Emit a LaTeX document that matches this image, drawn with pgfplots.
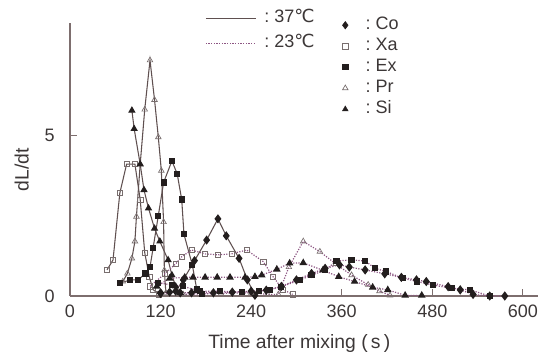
\documentclass[border=0pt]{standalone}
\usepackage{fontspec}
\setmainfont{Liberation Sans}
\newfontfamily\symfont{DejaVu Sans}
\usepackage{pgfplots}
\pgfplotsset{compat=1.18}
\definecolor{axcol}{RGB}{125,110,110}
\definecolor{solcol}{RGB}{95,80,80}
\definecolor{dotcol}{RGB}{140,85,130}
\definecolor{mkcol}{RGB}{35,30,30}
\definecolor{opcol}{RGB}{120,110,110}
\definecolor{txtcol}{RGB}{60,55,55}
\pgfplotsset{
  s37/.style={solcol, line width=0.8pt, solid},
  s23/.style={dotcol, line width=0.9pt, dash pattern=on 0.9pt off 1.1pt},
  mCo/.style={mark=diamond*, mark size=2.8pt, mark options={solid, fill=mkcol, draw=mkcol}},
  mXa/.style={mark=square, mark size=2pt, mark options={solid, draw=opcol, fill=white, line width=0.5pt}},
  mEx/.style={mark=square*, mark size=1.9pt, mark options={solid, fill=mkcol, draw=mkcol}},
  mPr/.style={mark=triangle, mark size=2.4pt, mark options={solid, draw=opcol, fill=white, line width=0.5pt}},
  mSi/.style={mark=triangle*, mark size=2.4pt, mark options={solid, fill=mkcol, draw=mkcol}},
}
\begin{document}
\begin{tikzpicture}
\begin{axis}[
  at={(0pt,0pt)}, anchor=south west,
  width=351pt, height=205pt, scale only axis,
  xmin=0, xmax=620, ymin=0, ymax=8.5,
  axis lines=left,
  axis line style={axcol, line width=0.8pt, -},
  xtick={0,120,240,360,480,600}, ytick={0,5},
  tick align=inside, major tick length=5pt,
  tick style={axcol, line width=0.8pt},
  /pgf/number format/assume math mode=true,
  ticklabel style={font=\fontsize{13.5}{15}\selectfont, text=txtcol},
  xticklabel style={yshift=-3pt},
  yticklabel style={xshift=-8pt},
  xlabel={Time after mixing (\,s\,)},
  ylabel={dL/dt},
  label style={font=\fontsize{14.5}{16}\selectfont, text=txtcol},
  xlabel style={at={(axis description cs:0.49,-0.172)}, anchor=center},
  ylabel style={at={(axis description cs:-0.103,0.461)}, anchor=center, rotate=0},
  legend style={at={(axis cs:364,8.73)}, anchor=north west, xshift=-4pt,
    draw=none, fill=none, inner sep=0pt, row sep=1.25pt, column sep=10pt,
    font=\fontsize{13.5}{15}\selectfont, text=txtcol,
    nodes={inner sep=1pt, text height=9.5pt, text depth=3pt},
    cells={anchor=west}},
  legend image code/.code={\draw[#1] plot coordinates {(4pt,0pt)}; \path (0pt,0pt) (8pt,0pt);},
  clip=false,
]
% ---- 37 C (solid) ----
\addplot[s37, mXa, forget plot] coordinates {(49,0.81)(57,1.12)(66,3.2)(75,4.1)(86,4.1)(93,3.0)(99,1.35)(105,0.6)(110,0.2)(118,0.05)};
\addplot[s37, mPr, forget plot] coordinates {(70,0.45)(76,0.7)(82,1.17)(86,1.7)(88,2.47)(93,4.1)(99,5.8)(106,7.33)(112,6.1)(117,4.94)(121,3.9)(124,2.3)(125,0.8)(127,0.1)};
\addplot[s37, mSi, forget plot] coordinates {(82,5.77)(85,5.2)(93,4.1)(98,3.3)(104,2.73)(112,2.1)(119,1.7)(130,1.12)(135,0.65)(140,0.3)(146,0.1)};
\addplot[s37, mEx, forget plot] coordinates {(66,0.4)(80,0.5)(90,0.5)(100,0.7)(106,0.9)(110,1.48)(117,2.5)(124,3.53)(135,4.2)(142,3.8)(148,3.0)(151,1.92)(162,0.97)(168,0.2)(175,0.05)};
\addplot[s37, mCo, forget plot] coordinates {(120,0.1)(132,0.12)(140,0.15)(150,0.5)(165,1.1)(181,1.74)(196,2.4)(207,1.87)(224,1.17)(235,0.5)(245,0.02)};
% ---- 23 C (dotted) ----
\addplot[s23, mXa, forget plot] coordinates {(106,0.3)(126,0.7)(140,1.0)(148,1.22)(161,1.43)(179,1.31)(196,1.28)(214,1.31)(234,1.43)(256,1.07)(269,0.6)(282,0.2)(295,0.05)};
\addplot[s23, mPr, forget plot] coordinates {(150,0.05)(200,0.08)(240,0.1)(262,0.05)(276,0.05)(290,0.9)(309,1.7)(331,1.38)(352,1.0)(373,0.65)(395,0.35)(410,0.15)(424,0.02)};
\addplot[s23, mSi, forget plot] coordinates {(115,0.3)(132,0.55)(152,0.58)(163,0.58)(179,0.58)(195,0.58)(212,0.58)(232,0.58)(245,0.6)(254,0.65)(274,0.83)(291,1.02)(309,1.03)(335,0.8)(356,0.6)(377,0.45)(401,0.27)(421,0.19)(444,0.02)(466,0.02)};
\addplot[s23, mEx, forget plot] coordinates {(117,0.4)(135,0.35)(150,0.3)(172,0.15)(199,0.15)(228,0.12)(250,0.15)(265,0.19)(280,0.29)(305,0.5)(320,0.65)(338,0.8)(353,1.09)(373,1.12)(391,1.09)(404,0.86)(419,0.76)(441,0.55)(460,0.45)(481,0.34)(506,0.24)(530,0.19)(556,0.0)};
\addplot[s23, mCo, forget plot] coordinates {(120,0.08)(146,0.1)(161,0.1)(190,0.1)(215,0.12)(240,0.15)(260,0.18)(280,0.3)(300,0.5)(320,0.7)(338,0.86)(357,0.97)(370,0.9)(391,0.81)(417,0.69)(439,0.58)(459,0.5)(472,0.45)(501,0.29)(517,0.19)(534,0.05)(556,0.0)(576,0.0)};
% ---- marker legend ----
\addlegendimage{only marks, mCo}\addlegendentry{:\ Co}
\addlegendimage{only marks, mXa}\addlegendentry{:\ Xa}
\addlegendimage{only marks, mEx}\addlegendentry{:\ Ex}
\addlegendimage{only marks, mPr}\addlegendentry{:\ Pr}
\addlegendimage{only marks, mSi}\addlegendentry{:\ Si}
\end{axis}
\begin{axis}[
  at={(0pt,0pt)}, anchor=south west,
  width=351pt, height=205pt, scale only axis,
  xmin=0, xmax=620, ymin=0, ymax=8.5,
  hide axis,
  legend style={at={(axis cs:178.8,8.95)}, anchor=north west,
    draw=none, fill=none, inner sep=0pt, row sep=4.25pt, column sep=5pt,
    font=\fontsize{13.5}{15}\selectfont, text=txtcol,
    nodes={inner sep=1pt, text height=9.5pt, text depth=3pt},
    cells={anchor=west}},
  legend image code/.code={\draw[#1] (0pt,0pt) -- (37.5pt,0pt);},
]
\addlegendimage{s37}\addlegendentry{:\ 37{\symfont ℃}}
\addlegendimage{s23}\addlegendentry{:\ 23{\symfont ℃}}
\end{axis}
\pgfresetboundingbox
\path[use as bounding box] (-52.5pt,-45pt) rectangle (351.75pt,222pt);
\end{tikzpicture}
\end{document}
